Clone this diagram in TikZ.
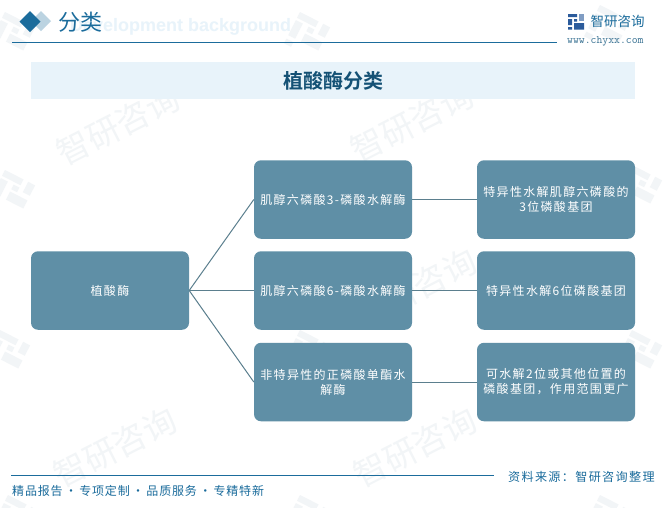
\documentclass[tikz,border=0pt]{standalone}
\usepackage{fontspec}
\newfontfamily\cjk[LetterSpace=11]{Noto Sans CJK SC}
\newfontfamily\cjkf[LetterSpace=7]{Noto Sans CJK SC}
\newfontfamily\cjkt[LetterSpace=0]{Noto Sans CJK SC}
\newfontfamily\cjkb[LetterSpace=0]{Noto Sans CJK SC Bold}
\setmainfont{Liberation Sans}
\definecolor{boxc}{HTML}{5F8FA6}
\definecolor{linec}{HTML}{5B7F8E}
\definecolor{headc}{HTML}{1B6C9C}
\definecolor{markc}{HTML}{F2F5F7}
\definecolor{bandc}{HTML}{E8F3FA}
\definecolor{logoc}{HTML}{2B5B9B}
\tikzset{
  box/.style={draw=none,fill=boxc,rounded corners=7pt,minimum width=158pt,text=white,align=center,font=\fontsize{12}{15}\cjk,inner sep=0pt},
  tall/.style={box,minimum height=78.5pt},
  conn/.style={draw=linec,line width=1pt},
  wmark/.style={text=markc,font=\fontsize{33}{33}\cjkt,rotate=27},
  hrule/.style={draw=headc,line width=1pt}
}
\newcommand{\wmlogo}[3]{%
  \begin{scope}[shift={(#1,#2)},rotate=-27,scale=#3]
    \fill[markc] (0,0) rectangle (16,5) (0,7) rectangle (6,20) (11,7) rectangle (16,11) (11,13) rectangle (26,20) (20,0) rectangle (26,9) (0,23) rectangle (6,27);
  \end{scope}}
\newcommand{\gapdot}{\makebox[16.6pt][c]{·}}
\begin{document}
\begin{tikzpicture}[x=1pt,y=-1pt]
\useasboundingbox (0,0) rectangle (663,507);
\fill[white] (0,0) rectangle (663,507);
% watermarks
\wmlogo{5}{12}{1.3}
\wmlogo{300}{12}{1.3}
\wmlogo{600}{5}{1.3}
\wmlogo{5}{170}{1.3}
\wmlogo{303}{170}{1.3}
\wmlogo{632}{165}{1.3}
\wmlogo{0}{330}{1.3}
\wmlogo{300}{330}{1.3}
\wmlogo{632}{330}{1.3}
\wmlogo{8}{495}{1.3}
\wmlogo{300}{495}{1.3}
\wmlogo{600}{495}{1.3}
\node[wmark] (wm1) at (118,125) {智研咨询};
\node[wmark] (wm2) at (412,122) {智研咨询};
\node[wmark] (wm4) at (415,288) {智研咨询};
\node[wmark] (wm5) at (115,447) {智研咨询};
\node[wmark] (wm6) at (415,447) {智研咨询};
\node[text=bandc,font=\fontsize{18}{18}\bfseries,anchor=west,inner sep=0pt] (bg) at (70,27) {Development background};
% header
\fill[headc!30] (41,11) -- (51,21) -- (41,31) -- (31,21) -- cycle;
\fill[headc] (30,11) -- (40.5,21.5) -- (30,32) -- (19.5,21.5) -- cycle;
\node[text=headc,font=\fontsize{22}{22}\cjkt,anchor=west,inner sep=0pt] (head) at (58,22) {分类};
\coordinate (hl) at (12,42.5); \coordinate (hr) at (557,42.5);
\draw[hrule] (hl) -- (hr);
% logo
\begin{scope}[shift={(568,14)}]
  \fill[logoc] (0,0) rectangle (9,3) (0,5) rectangle (4,11) (0,13) rectangle (4,15.5) (6,5) rectangle (9,7.5) (6,9) rectangle (16,15.5);
  \fill[logoc!60] (11,0) rectangle (16,7);
\end{scope}
\node[text=headc,font=\fontsize{13.5}{14}\cjkt,anchor=west,inner sep=0pt] (brand) at (590.5,21) {智研咨询};
\node[text=headc!70!gray,font=\fontsize{11.4}{12}\selectfont\ttfamily,anchor=west,inner sep=0pt] (url) at (567,41) {www.chyxx.com};
% banner
\node[fill=bandc,minimum width=604pt,minimum height=37pt,inner sep=0pt,text=headc!75!black,font=\fontsize{20}{21}\cjkb] (title) at (333,80.5) {植酸酶分类};
% boxes
\node[tall] (root) at (110,290.5) {植酸酶};
\node[tall] (m1) at (333,199.5) {肌醇六磷酸3-磷酸水解酶};
\node[tall] (m2) at (333,290.5) {肌醇六磷酸6-磷酸水解酶};
\node[tall] (m3) at (333,382) {非特异性的正磷酸单酯水\\解酶};
\node[tall] (r1) at (556,199.5) {特异性水解肌醇六磷酸的\\3位磷酸基团};
\node[tall] (r2) at (556,290.5) {特异性水解6位磷酸基团};
\node[tall] (r3) at (556,382) {可水解2位或其他位置的\\磷酸基团，作用范围更广};
\draw[conn] (root.east) -- (m1.west);
\draw[conn] (root.east) -- (m2.west);
\draw[conn] (root.east) -- (m3.west);
\draw[conn] (m1.east) -- (r1.west);
\draw[conn] (m2.east) -- (r2.west);
\draw[conn] (m3.east) -- (r3.west);
% footer
\coordinate (fl) at (11,475); \coordinate (fr) at (494,475);
\draw[hrule] (fl) -- (fr);
\node[text=headc,font=\fontsize{12}{14}\cjkf,anchor=west,inner sep=0pt] (fleft) at (12,490.5) {精品报告\gapdot 专项定制\gapdot 品质服务\gapdot 专精特新};
\node[text=headc,font=\fontsize{12.1}{14}\cjk,anchor=west,inner sep=0pt] (fright) at (508,477) {资料来源：智研咨询整理};
\end{tikzpicture}
\end{document}
